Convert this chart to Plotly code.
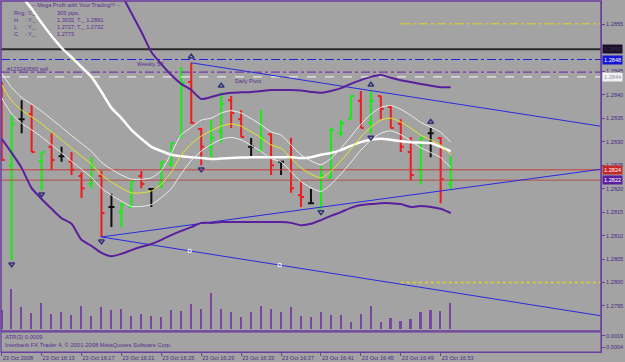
import numpy as np
import plotly.graph_objects as go

# ---------------- data ----------------
bar_index = list(range(46))
tick_index = [0, 4, 8, 12, 16, 20, 24, 28, 32, 36, 40, 44]
tick_labels = ["23 Oct 2008", "23 Oct 16:13", "23 Oct 16:17", "23 Oct 16:21", "23 Oct 16:25",
               "23 Oct 16:29", "23 Oct 16:33", "23 Oct 16:37", "23 Oct 16:41", "23 Oct 16:45",
               "23 Oct 16:49", "23 Oct 16:53"]
price_ticks = [1.2860, 1.2855, 1.2845, 1.2840, 1.2835, 1.2830, 1.2825, 1.2820, 1.2815,
               1.2810, 1.2805, 1.2800, 1.2795]

opens = [1.28410, 1.28250, 1.28348, 1.28359, 1.28259, 1.28289, 1.28269, 1.28257, 1.28227, 1.28210,
         1.28227, 1.28161, 1.28150, 1.28161, 1.28227, 1.28199, 1.28210, 1.28252, 1.28310, 1.28427,
         1.28327, 1.28289, 1.28321, 1.28388, 1.28348, 1.28289, 1.28280, 1.28316, 1.28257, 1.28267,
         1.28186, 1.28169, 1.28159, 1.28223, 1.28318, 1.28348, 1.28387, 1.28340, 1.28397, 1.28374,
         1.28338, 1.28278, 1.28240, 1.28318, 1.28308, 1.28210]
highs = [1.28427, 1.28357, 1.28388, 1.28378, 1.28278, 1.28318, 1.28289, 1.28278, 1.28235, 1.28267,
         1.28238, 1.28189, 1.28169, 1.28218, 1.28238, 1.28199, 1.28257, 1.28297, 1.28459, 1.28468,
         1.28329, 1.28346, 1.28406, 1.28397, 1.28367, 1.28308, 1.28367, 1.28318, 1.28257, 1.28308,
         1.28216, 1.28199, 1.28248, 1.28329, 1.28346, 1.28399, 1.28408, 1.28408, 1.28397, 1.28378,
         1.28348, 1.28310, 1.28310, 1.28329, 1.28310, 1.28269]
lows = [1.28261, 1.28048, 1.28318, 1.28278, 1.28197, 1.28240, 1.28257, 1.28229, 1.28180, 1.28201,
        1.28097, 1.28118, 1.28118, 1.28161, 1.28201, 1.28161, 1.28201, 1.28246, 1.28310, 1.28338,
        1.28250, 1.28267, 1.28299, 1.28329, 1.28310, 1.28267, 1.28280, 1.28229, 1.28229, 1.28191,
        1.28161, 1.28169, 1.28159, 1.28223, 1.28310, 1.28348, 1.28329, 1.28318, 1.28348, 1.28329,
        1.28278, 1.28218, 1.28208, 1.28267, 1.28169, 1.28199]
closes = [1.28261, 1.28338, 1.28348, 1.28278, 1.28278, 1.28261, 1.28269, 1.28240, 1.28201, 1.28248,
          1.28148, 1.28161, 1.28167, 1.28216, 1.28210, 1.28199, 1.28257, 1.28297, 1.28425, 1.28340,
          1.28289, 1.28308, 1.28380, 1.28361, 1.28310, 1.28289, 1.28308, 1.28250, 1.28257, 1.28201,
          1.28182, 1.28169, 1.28227, 1.28325, 1.28340, 1.28397, 1.28329, 1.28387, 1.28370, 1.28329,
          1.28289, 1.28229, 1.28308, 1.28318, 1.28220, 1.28218]
volumes = [19, 40, 22, 16, 26, 15, 17, 14, 23, 13, 22, 19, 20, 13, 15, 13, 12, 19, 18, 25,
           20, 36, 20, 17, 12, 17, 23, 20, 17, 22, 13, 12, 17, 14, 14, 7, 15, 23, 7, 11,
           8, 10, 17, 19, 18, 26]

ma_yellow = [1.28421, 1.28387, 1.28367, 1.28353, 1.28338, 1.28321, 1.28304, 1.28286, 1.28269, 1.28252,
             1.28229, 1.28214, 1.28201, 1.28191, 1.28191, 1.28195, 1.28210, 1.28235, 1.28272, 1.28295,
             1.28312, 1.28323, 1.28333, 1.28338, 1.28333, 1.28321, 1.28308, 1.28293, 1.28286, 1.28265,
             1.28244, 1.28231, 1.28223, 1.28237, 1.28259, 1.28284, 1.28310, 1.28331, 1.28346, 1.28350,
             1.28342, 1.28329, 1.28314, 1.28304, 1.28293, 1.28272]
band_upper = [1.28446, 1.28415, 1.28394, 1.28380, 1.28365, 1.28348, 1.28331, 1.28313, 1.28296, 1.28279,
              1.28256, 1.28241, 1.28229, 1.28220, 1.28220, 1.28223, 1.28238, 1.28275, 1.28315, 1.28330,
              1.28346, 1.28350, 1.28361, 1.28366, 1.28361, 1.28349, 1.28336, 1.28321, 1.28314, 1.28293,
              1.28272, 1.28259, 1.28251, 1.28264, 1.28286, 1.28311, 1.28337, 1.28358, 1.28373, 1.28377,
              1.28369, 1.28356, 1.28341, 1.28331, 1.28320, 1.28299]
band_lower = [1.28393, 1.28359, 1.28339, 1.28325, 1.28310, 1.28293, 1.28276, 1.28258, 1.28241, 1.28224,
              1.28201, 1.28186, 1.28173, 1.28162, 1.28162, 1.28166, 1.28181, 1.28200, 1.28232, 1.28260,
              1.28280, 1.28294, 1.28305, 1.28309, 1.28304, 1.28292, 1.28279, 1.28264, 1.28257, 1.28236,
              1.28215, 1.28202, 1.28194, 1.28209, 1.28231, 1.28256, 1.28282, 1.28303, 1.28318, 1.28323,
              1.28315, 1.28302, 1.28287, 1.28277, 1.28266, 1.28245]
ma_slow = [1.28666, 1.28638, 1.28610, 1.28583, 1.28553, 1.28525, 1.28500, 1.28480, 1.28459, 1.28438,
           1.28406, 1.28372, 1.28350, 1.28325, 1.28306, 1.28289, 1.28280, 1.28272, 1.28269, 1.28267,
           1.28265, 1.28263, 1.28264, 1.28265, 1.28266, 1.28267, 1.28267, 1.28267, 1.28267, 1.28267,
           1.28265, 1.28267, 1.28272, 1.28276, 1.28282, 1.28291, 1.28299, 1.28304, 1.28306, 1.28304,
           1.28301, 1.28299, 1.28298, 1.28297, 1.28289, 1.28280]
env_upper = [None] * 12 + [1.28614, 1.28574, 1.28534, 1.28491, 1.28465, 1.28442, 1.28423, 1.28410,
                           1.28391, 1.28395, 1.28401, 1.28404, 1.28405, 1.28406, 1.28408, 1.28410,
                           1.28410, 1.28410, 1.28409, 1.28406, 1.28404, 1.28408, 1.28414, 1.28423,
                           1.28431, 1.28438, 1.28442, 1.28436, 1.28431, 1.28427, 1.28423, 1.28419,
                           1.28416, 1.28416]
env_lower = [1.28306, 1.28276, 1.28244, 1.28201, 1.28178, 1.28157, 1.28137, 1.28125, 1.28091, 1.28078,
             1.28063, 1.28056, 1.28061, 1.28069, 1.28076, 1.28082, 1.28091, 1.28101, 1.28110, 1.28118,
             1.28127, 1.28127, 1.28129, 1.28129, 1.28129, 1.28129, 1.28129, 1.28129, 1.28129, 1.28127,
             1.28122, 1.28125, 1.28133, 1.28142, 1.28150, 1.28159, 1.28165, 1.28167, 1.28169, 1.28169,
             1.28167, 1.28161, 1.28163, 1.28161, 1.28157, 1.28148]

fractal_up_idx = [19, 22, 37, 43]
fractal_down_idx = [1, 4, 10, 20, 32, 37]

# trend lines: two anchor points (bar index, price)
trend_upper = [(19, 1.28468), (43, 1.28389)]
trend_rise = [(10, 1.28097), (44, 1.28195)]
trend_fall = [(10, 1.28097), (44, 1.27983)]
fall_marks = [18.84, 27.86]

# horizontal levels
level_prices = [1.28497, 1.28475, 1.28448, 1.28438, 1.28240, 1.28218, 1.28551, 1.28000]
level_start = [None, None, None, None, None, None, 40, 40]

right_box_text = ["1.2850", "1.2848", "1.2844", "1.2824", "1.2822"]
right_box_price = [1.28497, 1.28475, 1.28438, 1.28240, 1.28218]

atr_ticks = [0.0019, 0.0004]

# ---------------- style ----------------
BG = "#a3a3a3"
FRAME = "#6b3fa0"
TXT = "#4b2a86"
GREEN = "#10f010"
RED = "#f21a1a"
BLACK = "#101010"
FONT = "Liberation Sans"
X_MIN, X_MAX = -0.07, 60.07
Y_MIN, Y_MAX = 1.278967, 1.285996
MAIN_DOM = [0.0598, 1.0]
ATR_DOM = [0.0, 0.057]

level_styles = [
    dict(color="#2a2a2a", width=2, dash="solid"),
    dict(color="#2020dd", width=1, dash="dashdot"),
    dict(color="#7a3aaa", width=1.3, dash="dashdot"),
    dict(color="#e8e8e8", width=1.3, dash="dash"),
    dict(color="#c83a3a", width=1, dash="solid"),
    dict(color="#b4504a", width=1, dash="solid"),
    dict(color="#e2d41e", width=1, dash="dashdot"),
    dict(color="#e2d41e", width=1.3, dash="dot"),
]
box_styles = [
    dict(bg="#1c0f2c", fg="#3a3040"),
    dict(bg="#1515d5", fg="#ffffff"),
    dict(bg="#f2f2f2", fg="#9090a8"),
    dict(bg="#c62828", fg="#ffffff"),
    dict(bg="#5b1f9e", fg="#ffffff"),
]

fig = go.Figure()

# volumes on an overlaid hidden axis
fig.add_trace(go.Bar(x=bar_index, y=volumes, yaxis="y2", width=0.16,
                     marker=dict(color="#7b45a3", line=dict(width=0)),
                     showlegend=False, hoverinfo="skip"))

# horizontal levels
for p, st, s in zip(level_prices, level_styles, level_start):
    x0 = X_MIN if s is None else s
    fig.add_trace(go.Scatter(x=[x0, X_MAX], y=[p, p], mode="lines",
                             line=dict(color=st["color"], width=st["width"], dash=st["dash"]),
                             showlegend=False, hoverinfo="skip"))


def extend(anchors, x_end):
    (xa, ya), (xb, yb) = anchors
    k = (yb - ya) / (xb - xa)
    return [xa, x_end], [ya, ya + k * (x_end - xa)]


for tl in (trend_upper, trend_rise, trend_fall):
    xs, ys = extend(tl, X_MAX)
    fig.add_trace(go.Scatter(x=xs, y=ys, mode="lines", line=dict(color="#2a2ae0", width=1),
                             showlegend=False, hoverinfo="skip"))

fx, fy = extend(trend_fall, X_MAX)
fig.add_trace(go.Scatter(x=fall_marks, y=list(np.interp(fall_marks, fx, fy)), mode="markers",
                         marker=dict(symbol="square-open", size=3, color="#f4f4f4", line=dict(width=1)),
                         showlegend=False, hoverinfo="skip"))

# envelope curves (purple)
for arr in (env_upper, env_lower):
    fig.add_trace(go.Scatter(x=bar_index, y=arr, mode="lines",
                             line=dict(color="#5a1f9c", width=2, shape="spline", smoothing=0.6),
                             showlegend=False, hoverinfo="skip", connectgaps=False))

# slow MA (thick white)
fig.add_trace(go.Scatter(x=bar_index, y=ma_slow, mode="lines",
                         line=dict(color="#ffffff", width=2.5, shape="spline", smoothing=0.6),
                         showlegend=False, hoverinfo="skip"))

# bands (thin white) and yellow MA
for arr in (band_upper, band_lower):
    fig.add_trace(go.Scatter(x=bar_index, y=arr, mode="lines",
                             line=dict(color="#ececec", width=1, shape="spline", smoothing=0.6),
                             showlegend=False, hoverinfo="skip"))
fig.add_trace(go.Scatter(x=bar_index, y=ma_yellow, mode="lines",
                         line=dict(color="#e6e62a", width=1, shape="spline", smoothing=0.6),
                         showlegend=False, hoverinfo="skip"))

# OHLC bars split by direction
groups = {"up": GREEN, "down": RED, "doji": BLACK}
for g, col in groups.items():
    o, h, l, c = [], [], [], []
    for i in bar_index:
        d = "up" if closes[i] > opens[i] else ("down" if closes[i] < opens[i] else "doji")
        keep = d == g
        o.append(opens[i] if keep else None)
        h.append(highs[i] if keep else None)
        l.append(lows[i] if keep else None)
        c.append(closes[i] if keep else None)
    fig.add_trace(go.Ohlc(x=bar_index, open=o, high=h, low=l, close=c, tickwidth=0.3,
                          increasing=dict(line=dict(color=col, width=2)),
                          decreasing=dict(line=dict(color=col, width=2)),
                          showlegend=False, hoverinfo="skip"))

# fractals
fig.add_trace(go.Scatter(x=fractal_up_idx, y=[highs[i] + 0.00013 for i in fractal_up_idx],
                         mode="markers",
                         marker=dict(symbol="triangle-up-open", size=5, color="#33337a",
                                     line=dict(width=1.5, color="#33337a")),
                         showlegend=False, hoverinfo="skip"))
fig.add_trace(go.Scatter(x=fractal_down_idx, y=[lows[i] - 0.00009 for i in fractal_down_idx],
                         mode="markers",
                         marker=dict(symbol="triangle-down-open", size=5, color="#33337a",
                                     line=dict(width=1.5, color="#33337a")),
                         showlegend=False, hoverinfo="skip"))

# empty ATR subwindow placeholder
fig.add_trace(go.Scatter(x=[0], y=[None], yaxis="y3", mode="lines", showlegend=False,
                         hoverinfo="skip"))


def px(xp):
    return (xp - 1) / 600.0


def py(yp):
    return 1 - (yp - 1) / 351.0


ann = []


def txt(x, y, s, size=5.6, color="#5a2d91"):
    ann.append(dict(x=px(x), y=py(y), xref="paper", yref="paper", text=s, showarrow=False,
                    xanchor="left", yanchor="middle", font=dict(family=FONT, size=size, color=color)))


txt(30, 5, "-- Mega Profit with Your Trading!!! --")
rows = [("Rng", "305 pips."), ("H", "1.3032, T._ 1.2891"), ("L", "1.2727, T._ 1.2732"), ("C", "1.2773")]
for k, (lab, val) in enumerate(rows):
    yy = 13.3 + 7 * k
    txt(12, yy, lab)
    txt(23, yy, ": Y._")
    txt(55, yy, val)
txt(135, 64, "Weekly S3")
txt(5, 68.5, "#123240560 sell")
txt(233, 81, "Daily Pivot")
txt(3, 337, "ATR(3) 0.0009", size=5.8)
txt(3, 345, "Interbank FX Trader 4, \u00a9 2001-2008 MetaQuotes Software Corp.", size=5.8)

for t, p, st in zip(right_box_text, right_box_price, box_styles):
    ann.append(dict(x=1.002, y=p, xref="paper", yref="y", text=t, showarrow=False,
                    xanchor="left", yanchor="middle", bgcolor=st["bg"], borderpad=1,
                    font=dict(family=FONT, size=5.6, color=st["fg"])))

shapes = [
    dict(type="rect", xref="paper", yref="paper", x0=0, x1=1, y0=MAIN_DOM[0], y1=MAIN_DOM[1],
         line=dict(color=FRAME, width=1.5)),
    dict(type="rect", xref="paper", yref="paper", x0=0, x1=1, y0=ATR_DOM[0], y1=ATR_DOM[1],
         line=dict(color=FRAME, width=1.2)),
]

fig.update_layout(
    width=625, height=362, autosize=False,
    margin=dict(l=1, r=24, t=1, b=10, autoexpand=False),
    paper_bgcolor=BG, plot_bgcolor=BG,
    font=dict(family=FONT, size=5.6, color=TXT),
    showlegend=False, bargap=0,
    xaxis=dict(domain=[0, 1], range=[X_MIN, X_MAX], anchor="y3", tickmode="array",
               tickvals=tick_index, ticktext=tick_labels, ticks="outside", ticklen=3,
               tickcolor=FRAME, ticklabelposition="outside right", tickangle=0,
               automargin=False, showgrid=False,
               zeroline=False, showline=True, linecolor=FRAME,
               tickfont=dict(family=FONT, size=5.6, color=TXT),
               rangeslider=dict(visible=False), fixedrange=True),
    yaxis=dict(domain=MAIN_DOM, range=[Y_MIN, Y_MAX], side="right", anchor="x",
               tickmode="array", tickvals=price_ticks, tickformat=".4f", ticks="outside",
               ticklen=3, automargin=False,
               tickcolor=FRAME, showgrid=False, zeroline=False, showline=True,
               linecolor=FRAME, tickfont=dict(family=FONT, size=5.6, color=TXT)),
    yaxis2=dict(overlaying="y", range=[-1.7, 328.3], visible=False),
    yaxis3=dict(domain=ATR_DOM, range=[-0.00025, 0.0024], side="right", anchor="x",
                tickmode="array", tickvals=atr_ticks, tickformat=".4f", ticks="outside",
                ticklen=3, automargin=False, tickcolor=FRAME, showgrid=False, zeroline=False,
                showline=True, linecolor=FRAME, tickfont=dict(family=FONT, size=5.6, color=TXT)),
    annotations=ann,
    shapes=shapes,
)

fig.write_html("out.html")
